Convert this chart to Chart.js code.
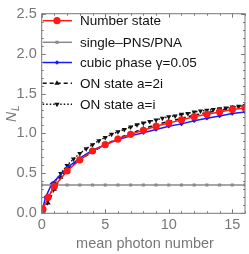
<!DOCTYPE html>
<html lang="en">
<head>
    <meta charset="UTF-8">
    <title>N_L vs mean photon number</title>
    <script src="https://cdn.jsdelivr.net/npm/chart.js"></script>
    <style>
        body { margin: 0; padding: 0; background: #fff; }
        #wrap { width: 249px; height: 254px; position: relative; }
    </style>
</head>
<body>
    <div id="wrap"><canvas id="chart" width="249" height="254"></canvas></div>

    <script>
        // values
        const xNumber = [0.1, 0.5, 1, 2, 3, 4, 5, 6, 7, 8, 9, 10, 11, 12, 13, 14, 15, 16];
        const yNumber = [0.05, 0.2, 0.34, 0.53, 0.67, 0.78, 0.86, 0.93, 0.99, 1.04, 1.09, 1.13, 1.17, 1.21, 1.24, 1.27, 1.30, 1.32];

        const xPns = [0, 1, 2, 3, 4, 5, 6, 7, 8, 9, 10, 11, 12, 13, 14, 15, 16];
        const yPns = [0.355, 0.355, 0.355, 0.355, 0.355, 0.355, 0.355, 0.355, 0.355, 0.355, 0.355, 0.355, 0.355, 0.355, 0.355, 0.355, 0.355];

        const xCubic = [0.05, 0.3, 0.8, 2, 3, 4, 5, 6, 7, 8, 9, 10, 11, 12, 13, 14, 15, 16];
        const yCubic = [0.04, 0.2, 0.37, 0.57, 0.69, 0.79, 0.86, 0.92, 0.97, 1.01, 1.05, 1.09, 1.12, 1.16, 1.19, 1.22, 1.25, 1.27];

        const xOn2i = [0.1, 0.5, 1, 1.5, 2, 3, 4, 5, 6, 7, 8, 9, 10, 11, 12, 13, 14, 15, 16];
        const yOn2i = [0.03, 0.13, 0.3, 0.45, 0.55, 0.67, 0.77, 0.86, 0.94, 1.0, 1.06, 1.11, 1.15, 1.19, 1.23, 1.26, 1.29, 1.32, 1.35];

        const xOni = [0.5, 1, 1.5, 2, 2.5, 3, 3.5, 4, 4.5, 5, 5.5, 6, 6.5, 7, 7.5, 8, 8.5, 9, 9.5, 10, 10.5, 11, 11.5, 12, 12.5, 13, 13.5, 14, 14.5, 15, 15.5, 16];
        const yOni = [0.17, 0.38, 0.5, 0.6, 0.68, 0.75, 0.81, 0.86, 0.91, 0.95, 0.99, 1.02, 1.05, 1.08, 1.11, 1.13, 1.15, 1.17, 1.19, 1.21, 1.22, 1.24, 1.25, 1.27, 1.28, 1.29, 1.30, 1.31, 1.32, 1.33, 1.34, 1.35];

        const seriesNames = ['Number state', 'single\u2013PNS/PNA', 'cubic phase \u03b3=0.05', 'ON state a=2i', 'ON state a=i'];

        const xTicks = [0, 5, 10, 15];
        const yTicks = [0.0, 0.5, 1.0, 1.5, 2.0, 2.5];

        const FONT = '"Liberation Sans", Arial, sans-serif';

        function pts(xs, ys) {
            return xs.map((x, i) => ({ x: x, y: ys[i] }));
        }

        const datasets = [
            { label: seriesNames[0], data: pts(xNumber, yNumber), borderColor: '#ff1a1a', backgroundColor: '#ff1a1a',
              borderWidth: 1.5, pointStyle: 'circle', pointRadius: 3.6 },
            { label: seriesNames[1], data: pts(xPns, yPns), borderColor: '#8a8a8a', backgroundColor: '#8a8a8a',
              borderWidth: 1.5, pointStyle: 'rect', pointRadius: 2.2 },
            { label: seriesNames[2], data: pts(xCubic, yCubic), borderColor: '#1a1aff', backgroundColor: '#1a1aff',
              borderWidth: 1.5, pointStyle: 'rectRot', pointRadius: 2.3 },
            { label: seriesNames[3], data: pts(xOn2i, yOn2i), borderColor: '#111', backgroundColor: '#111',
              borderWidth: 1.5, borderDash: [4, 3], pointStyle: 'triangle', pointRadius: 3 },
            { label: seriesNames[4], data: pts(xOni, yOni), borderColor: '#111', backgroundColor: '#111',
              borderWidth: 1.5, borderDash: [1.5, 2], pointStyle: 'triangle', pointRotation: 180, pointRadius: 3 }
        ];
        datasets.forEach(d => { d.pointBorderWidth = 0; d.tension = 0; });

        // frame, inward ticks, axis titles and legend, Mathematica style
        const framePlugin = {
            id: 'frame',
            afterDatasetsDraw(chart) {
                const ctx = chart.ctx;
                const a = chart.chartArea;
                const xs = chart.scales.x, ys = chart.scales.y;
                ctx.save();
                ctx.strokeStyle = '#777';
                ctx.lineWidth = 1;
                ctx.strokeRect(a.left, a.top, a.right - a.left, a.bottom - a.top);

                ctx.beginPath();
                for (let v = 0; v <= 16; v++) {
                    const px = Math.round(xs.getPixelForValue(v)) + 0.5;
                    const len = v % 5 === 0 ? 4 : 2;
                    ctx.moveTo(px, a.bottom); ctx.lineTo(px, a.bottom - len);
                    ctx.moveTo(px, a.top); ctx.lineTo(px, a.top + len);
                }
                for (let k = 0; k <= 25; k++) {
                    const py = Math.round(ys.getPixelForValue(k / 10)) + 0.5;
                    const len = k % 5 === 0 ? 4 : 2;
                    ctx.moveTo(a.left, py); ctx.lineTo(a.left + len, py);
                    ctx.moveTo(a.right, py); ctx.lineTo(a.right - len, py);
                }
                ctx.stroke();

                // axis titles
                ctx.fillStyle = '#777';
                ctx.font = '14.5px ' + FONT;
                ctx.textAlign = 'center';
                ctx.textBaseline = 'middle';
                ctx.fillText('mean photon number', 145, 244);

                ctx.save();
                ctx.translate(12, 112);
                ctx.rotate(-Math.PI / 2);
                ctx.font = 'italic 14px ' + FONT;
                ctx.textAlign = 'right';
                ctx.fillText('N', 0, 0);
                ctx.font = 'italic 10px ' + FONT;
                ctx.textAlign = 'left';
                ctx.fillText('L', 1, 4);
                ctx.restore();

                // legend
                const rows = [20.7, 42.3, 62.5, 83.3, 104.3];
                chart.data.datasets.forEach((d, i) => {
                    const y = rows[i];
                    ctx.save();
                    ctx.strokeStyle = d.borderColor;
                    ctx.lineWidth = 1.5;
                    ctx.setLineDash(d.borderDash || []);
                    ctx.beginPath();
                    ctx.moveTo(a.left + 1, y);
                    ctx.lineTo(72, y);
                    ctx.stroke();
                    ctx.restore();
                    ctx.fillStyle = d.backgroundColor;
                    Chart.helpers.drawPoint(ctx, {
                        pointStyle: d.pointStyle, rotation: d.pointRotation || 0,
                        radius: d.pointRadius, borderWidth: 0
                    }, 57, y);
                    ctx.fillStyle = '#111';
                    ctx.font = '13.5px ' + FONT;
                    ctx.textAlign = 'left';
                    ctx.fillText(d.label, 80, y + 0.5);
                });
                ctx.restore();
            }
        };

        const ctx = document.getElementById('chart').getContext('2d');
        new Chart(ctx, {
            type: 'line',
            data: { datasets: datasets },
            options: {
                responsive: false,
                animation: false,
                events: [],
                layout: { padding: { left: 0, right: 1.5, top: 7, bottom: 0 } },
                plugins: { legend: { display: false }, tooltip: { enabled: false } },
                scales: {
                    x: {
                        type: 'linear', min: 0, max: 16,
                        afterFit: s => { s.height = 40.7; },
                        afterBuildTicks: s => { s.ticks = xTicks.map(v => ({ value: v })); },
                        grid: { display: false, drawTicks: false },
                        border: { display: false },
                        ticks: { color: '#777', padding: 3, maxRotation: 0,
                                 font: { size: 14.5, family: FONT } }
                    },
                    y: {
                        type: 'linear', min: 0, max: 2.5,
                        afterFit: s => { s.width = 41.7; },
                        afterBuildTicks: s => { s.ticks = yTicks.map(v => ({ value: v })); },
                        grid: { display: false, drawTicks: false },
                        border: { display: false },
                        ticks: { color: '#777', padding: 5,
                                 callback: v => v.toFixed(1),
                                 font: { size: 14.5, family: FONT } }
                    }
                }
            },
            plugins: [framePlugin]
        });
    </script>
</body>
</html>
